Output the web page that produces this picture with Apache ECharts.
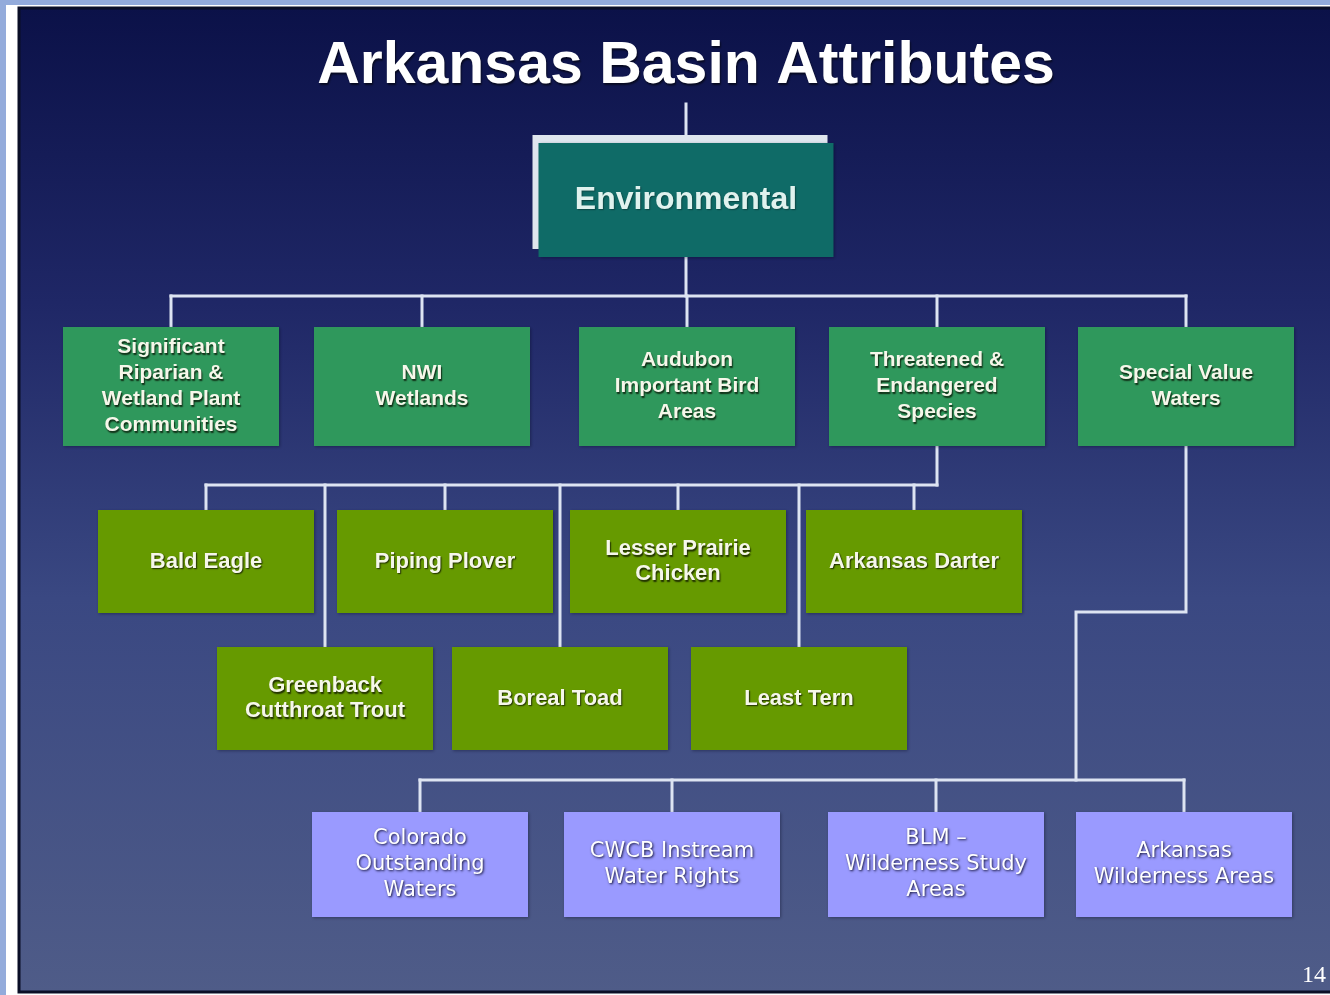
<!DOCTYPE html>
<html>
<head>
<meta charset="utf-8">
<script src="https://cdn.jsdelivr.net/npm/echarts@6/dist/echarts.min.js"></script>
<style>
html,body{margin:0;padding:0;background:#ffffff;}
#chart{width:1330px;height:995px;}
</style>
</head>
<body>
<div id="chart"></div>
<script>
// ---------- content ----------
const title = 'Arkansas Basin Attributes';
const rootLabel = 'Environmental';
const attributeLabels = [
  'Significant\nRiparian &\nWetland Plant\nCommunities',
  'NWI\nWetlands',
  'Audubon\nImportant Bird\nAreas',
  'Threatened &\nEndangered\nSpecies',
  'Special Value\nWaters'
];
const speciesLabels = [
  'Bald Eagle', 'Piping Plover', 'Lesser Prairie\nChicken', 'Arkansas Darter',
  'Greenback\nCutthroat Trout', 'Boreal Toad', 'Least Tern'
];
const watersLabels = [
  'Colorado\nOutstanding\nWaters',
  'CWCB Instream\nWater Rights',
  'BLM –\nWilderness Study\nAreas',
  'Arkansas\nWilderness Areas'
];
const speciesParentIndex = 3;   // Threatened & Endangered Species
const watersParentIndex = 4;    // Special Value Waters
const pageNumber = '14';

// ---------- layout (units of the hidden axes) ----------
const LAYOUT = {
  titleY: 67,
  titleBottom: 104,
  root: { cx: 686, top: 143, w: 295, h: 114, shadowDx: -6, shadowDy: -8 },
  level1: { cx: [171, 422, 687, 937, 1186], top: 327, w: 216, h: 119, busY: 296 },
  species: { cx: [206, 445, 678, 914, 325, 560, 799], row: [0, 0, 0, 0, 1, 1, 1], top: [510, 647], w: 216, h: 103, busY: 485 },
  waters: { cx: [420, 672, 936, 1184], top: 812, w: 216, h: 105, busY: 780, jogY: 612, jogX: 1076 }
};

const STYLE = {
  root:    { fill: '#0f6b67', text: '#e0f2ee', font: 'bold 32px "Liberation Sans", Arial, sans-serif', lh: 36, shadow: 'rgba(0,0,0,0.35)', sb: 1.5 },
  level1:  { fill: '#2f985c', text: '#f6f7ea', font: 'bold 21px "Liberation Sans", Arial, sans-serif', lh: 26, shadow: 'rgba(10,30,10,0.9)', sb: 1.5 },
  species: { fill: '#669a00', text: '#f6f7ea', font: 'bold 22px "Liberation Sans", Arial, sans-serif', lh: 25, shadow: 'rgba(20,30,0,0.9)', sb: 1.5 },
  waters:  { fill: '#9a9aff', text: '#ffffff', font: '21px "DejaVu Sans", Verdana, sans-serif', lh: 26, shadow: 'rgba(15,15,50,1)', sb: 2.5 }
};
const LINE_COLOR = '#dde4f2';

// ---------- build boxes ----------
const boxes = [];
boxes.push({ name: rootLabel, value: [LAYOUT.root.cx, LAYOUT.root.top, LAYOUT.root.w, LAYOUT.root.h], kind: 'root' });
attributeLabels.forEach((n, i) => boxes.push({ name: n, value: [LAYOUT.level1.cx[i], LAYOUT.level1.top, LAYOUT.level1.w, LAYOUT.level1.h], kind: 'level1' }));
speciesLabels.forEach((n, i) => boxes.push({ name: n, value: [LAYOUT.species.cx[i], LAYOUT.species.top[LAYOUT.species.row[i]], LAYOUT.species.w, LAYOUT.species.h], kind: 'species' }));
watersLabels.forEach((n, i) => boxes.push({ name: n, value: [LAYOUT.waters.cx[i], LAYOUT.waters.top, LAYOUT.waters.w, LAYOUT.waters.h], kind: 'waters' }));

// ---------- build connectors ----------
const connectors = [];
const R = LAYOUT.root, A = LAYOUT.level1, S = LAYOUT.species, W = LAYOUT.waters;
connectors.push([[R.cx, LAYOUT.titleBottom], [R.cx, R.top + R.shadowDy]]);
connectors.push([[R.cx, R.top + R.h], [R.cx, A.busY]]);
connectors.push([[A.cx[0], A.busY], [A.cx[A.cx.length - 1], A.busY]]);
A.cx.forEach(x => connectors.push([[x, A.busY], [x, A.top]]));
// species
const spX = A.cx[speciesParentIndex];
connectors.push([[spX, A.top + A.h], [spX, S.busY]]);
connectors.push([[Math.min(...S.cx), S.busY], [Math.max(spX, ...S.cx), S.busY]]);
S.cx.forEach((x, i) => connectors.push([[x, S.busY], [x, S.top[S.row[i]]]]));
// waters
const wpX = A.cx[watersParentIndex];
connectors.push([[wpX, A.top + A.h], [wpX, W.jogY], [W.jogX, W.jogY], [W.jogX, W.busY]]);
connectors.push([[Math.min(...W.cx), W.busY], [Math.max(...W.cx), W.busY]]);
W.cx.forEach(x => connectors.push([[x, W.busY], [x, W.top]]));

function renderBox(params, api) {
  const b = boxes[params.dataIndex];
  const st = STYLE[b.kind];
  const cx = api.value(0), top = api.value(1), w = api.value(2), h = api.value(3);
  const p1 = api.coord([cx - w / 2, top]);
  const p2 = api.coord([cx + w / 2, top + h]);
  const x = Math.min(p1[0], p2[0]), y = Math.min(p1[1], p2[1]);
  const pw = Math.abs(p2[0] - p1[0]), ph = Math.abs(p2[1] - p1[1]);
  const children = [];
  if (b.kind === 'root') {
    const s1 = api.coord([cx - w / 2 + R.shadowDx, top + R.shadowDy]);
    children.push({ type: 'rect', shape: { x: s1[0], y: s1[1], width: pw, height: ph }, style: { fill: '#dfe6ee' } });
  }
  children.push({ type: 'rect', shape: { x: x, y: y, width: pw, height: ph },
    style: { fill: st.fill, shadowBlur: 3, shadowColor: 'rgba(0,0,20,0.35)', shadowOffsetX: 1, shadowOffsetY: 1 } });
  children.push({ type: 'text', style: {
    text: b.name, x: x + pw / 2, y: y + ph / 2, align: 'center', verticalAlign: 'middle',
    font: st.font, lineHeight: st.lh, fill: st.text,
    textShadowColor: st.shadow, textShadowBlur: st.sb, textShadowOffsetX: 1, textShadowOffsetY: 1.5
  } });
  return { type: 'group', children: children };
}

const chart = echarts.init(document.getElementById('chart'), null, { renderer: 'canvas' });
chart.setOption({
  backgroundColor: '#ffffff',
  animation: false,
  grid: { left: 0, right: 0, top: 0, bottom: 0 },
  xAxis: { type: 'value', min: 0, max: 1330, show: false },
  yAxis: { type: 'value', min: 0, max: 995, inverse: true, show: false },
  graphic: [
    { type: 'rect', z: -10, shape: { x: 0, y: 0, width: 6, height: 995 }, style: { fill: '#93abdb' } },
    { type: 'rect', z: -10, shape: { x: 0, y: 0, width: 1330, height: 5 }, style: { fill: '#93abdb' } },
    { type: 'rect', z: -9, shape: { x: 19, y: 8, width: 1320, height: 984 },
      style: { stroke: '#0a0e26', lineWidth: 3,
        fill: { type: 'linear', x: 0, y: 0, x2: 0, y2: 1, colorStops: [
          { offset: 0, color: '#0b1148' }, { offset: 0.3, color: '#1f2766' },
          { offset: 0.6, color: '#3a4882' }, { offset: 1, color: '#4f5c88' } ] } } },
    { type: 'text', z: 50, style: { text: title, x: 686, y: LAYOUT.titleY, align: 'center', verticalAlign: 'middle',
        font: 'bold 59px "Liberation Sans", Arial, sans-serif', fill: '#ffffff',
        textShadowColor: 'rgba(0,0,0,0.6)', textShadowBlur: 2, textShadowOffsetX: 1, textShadowOffsetY: 2 } },
    { type: 'text', z: 50, style: { text: pageNumber, x: 1314, y: 976, align: 'center', verticalAlign: 'middle',
        font: '24px "Liberation Serif", "Times New Roman", serif', fill: '#ffffff' } }
  ],
  series: [
    {
      type: 'lines', coordinateSystem: 'cartesian2d', polyline: true, z: 10, silent: true,
      lineStyle: { color: LINE_COLOR, width: 3, opacity: 1, cap: 'square', join: 'miter' },
      data: connectors.map(c => ({ coords: c }))
    },
    {
      type: 'custom', coordinateSystem: 'cartesian2d', z: 20, silent: true,
      renderItem: renderBox,
      encode: { x: 0, y: 1 },
      data: boxes.map(b => ({ name: b.name, value: b.value }))
    }
  ]
});
</script>
</body>
</html>
